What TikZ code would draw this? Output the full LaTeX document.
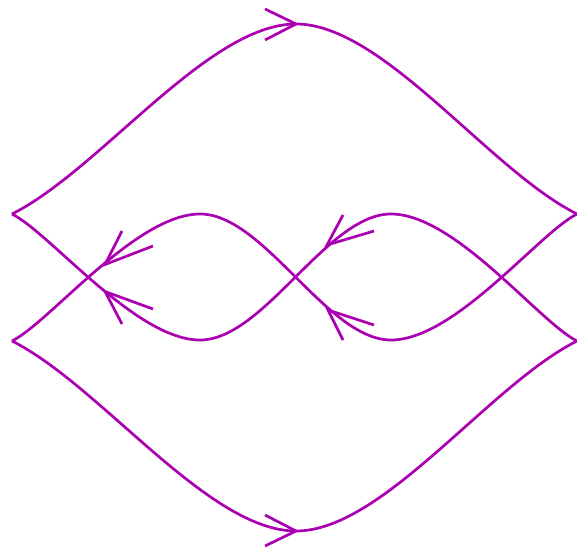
\documentclass[tikz,border=0pt]{standalone}
\definecolor{knot}{RGB}{170,0,178}
\begin{document}
\begin{tikzpicture}[x=1pt,y=-1pt,
  strand/.style={draw=knot,line width=2.7pt},
  head/.style={draw=knot,line width=2.7pt,line join=miter}]
\useasboundingbox (0,0) rectangle (577,548);
% cusps
\coordinate (LT) at (12,214);
\coordinate (LB) at (12,341);
\coordinate (RT) at (577,214);
\coordinate (RB) at (577,341);
% outer arcs
\draw[strand] (LT) .. controls (100,170) and (208,24) .. (296,24)
              .. controls (383,24) and (489,170) .. (RT);
\draw[strand] (LB) .. controls (100,385) and (208,531) .. (296,531)
              .. controls (383,531) and (489,385) .. (RB);
% middle strands
\draw[strand] (LT) .. controls (50,233) and (136,340) .. (200,340)
              .. controls (264,340) and (327,214) .. (391,214)
              .. controls (455,214) and (539,322) .. (RB);
\draw[strand] (LB) .. controls (50,322) and (136,214) .. (200,214)
              .. controls (264,214) and (327,340) .. (391,340)
              .. controls (455,340) and (539,233) .. (RT);
% arrowheads
\draw[head] (265,9) -- (296,24) -- (265,40);
\draw[head] (265,515) -- (296,531) -- (265,546);
\draw[head] (122,231) -- (105,264.5) -- (153,246);
\draw[head] (122,324) -- (105,291.5) -- (153,309);
\draw[head] (343,215) -- (327,245) -- (374,231);
\draw[head] (343,340) -- (328,310) -- (374,325);
\end{tikzpicture}
\end{document}
